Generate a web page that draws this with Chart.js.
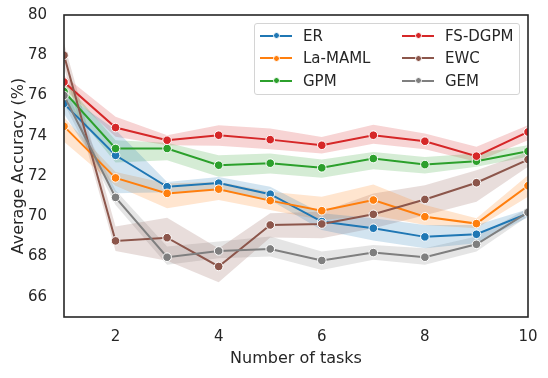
<!DOCTYPE html>
<html><head><meta charset="utf-8">
<script src="https://cdn.jsdelivr.net/npm/chart.js@4/dist/chart.umd.min.js"></script>
<style>
html,body{margin:0;padding:0;background:#fff;}
#wrap{position:relative;width:548px;height:378px;}
#legend{position:absolute;left:254px;top:23px;width:266px;height:72px;border:1px solid #d4d4d4;border-radius:3px;background:rgba(255,255,255,0.8);box-sizing:border-box;}
.lab{position:absolute;font-family:"DejaVu Sans";font-size:15px;color:#262626;line-height:20px;height:20px;white-space:nowrap;}
.ln{position:absolute;height:2px;width:32px;}
.dt{position:absolute;width:7px;height:7px;border-radius:50%;box-sizing:border-box;border:1px solid #fff;}
</style>
</head><body>
<div id="wrap"><canvas id="c" width="548" height="378"></canvas><div id="legend"></div></div>
<script>
const tasks = [1,2,3,4,5,6,7,8,9,10];
const xTicks = [2,4,6,8,10];
const yTicks = [66,68,70,72,74,76,78,80];

const ER      = [75.6, 73.03, 71.47, 71.65, 71.1, 69.74, 69.41, 68.98, 69.11, 70.15];
const ER_hi   = [76.1, 74.3, 71.7, 71.95, 71.47, 70.15, 69.9, 69.57, 69.57, 70.35];
const ER_lo   = [75.1, 71.15, 71.2, 71.3, 70.81, 69.32, 68.8, 68.42, 68.66, 69.95];

const LaMAML    = [74.47, 71.91, 71.14, 71.35, 70.78, 70.28, 70.81, 69.98, 69.64, 71.52];
const LaMAML_hi = [74.9, 72.2, 71.63, 71.72, 71.22, 70.97, 71.58, 70.56, 69.9, 72.04];
const LaMAML_lo = [73.7, 71.52, 70.4, 70.81, 70.31, 69.82, 70.06, 69.57, 69.41, 70.97];

const GPM    = [76.2, 73.37, 73.37, 72.54, 72.64, 72.41, 72.87, 72.57, 72.74, 73.23];
const GPM_hi = [76.7, 73.78, 73.65, 73.03, 73.12, 72.82, 73.2, 72.95, 73.12, 73.53];
const GPM_lo = [75.8, 72.67, 72.78, 71.96, 72.13, 71.92, 72.34, 72.13, 72.46, 72.96];

const FSDGPM    = [76.67, 74.41, 73.78, 74.03, 73.81, 73.53, 74.03, 73.73, 72.99, 74.19];
const FSDGPM_hi = [77.0, 74.94, 74.03, 74.52, 74.36, 73.94, 74.55, 74.11, 73.45, 74.52];
const FSDGPM_lo = [76.34, 73.95, 73.53, 73.5, 73.33, 73.12, 73.61, 73.33, 72.71, 73.78];

const EWC    = [78.0, 68.78, 68.94, 67.51, 69.57, 69.62, 70.1, 70.84, 71.67, 72.82];
const EWC_hi = [78.6, 69.49, 69.93, 68.4, 70.15, 70.23, 71.14, 71.55, 72.29, 73.2];
const EWC_lo = [77.4, 68.28, 67.8, 66.73, 68.95, 68.91, 69.41, 70.06, 70.73, 72.46];

const GEM    = [76.0, 70.94, 67.97, 68.28, 68.38, 67.81, 68.2, 67.97, 68.61, 70.2];
const GEM_hi = [76.4, 71.3, 68.5, 68.75, 69.0, 68.25, 68.58, 68.42, 69.0, 70.4];
const GEM_lo = [75.6, 70.56, 67.59, 67.92, 68.0, 67.34, 67.84, 67.59, 68.25, 70.0];

const series = [
  {name:'ER', color:'#1f77b4', rgb:'31,119,180', v:ER, hi:ER_hi, lo:ER_lo},
  {name:'La-MAML', color:'#ff7f0e', rgb:'255,127,14', v:LaMAML, hi:LaMAML_hi, lo:LaMAML_lo},
  {name:'GPM', color:'#2ca02c', rgb:'44,160,44', v:GPM, hi:GPM_hi, lo:GPM_lo},
  {name:'FS-DGPM', color:'#d62728', rgb:'214,39,40', v:FSDGPM, hi:FSDGPM_hi, lo:FSDGPM_lo},
  {name:'EWC', color:'#8c564b', rgb:'140,86,75', v:EWC, hi:EWC_hi, lo:EWC_lo},
  {name:'GEM', color:'#7f7f7f', rgb:'127,127,127', v:GEM, hi:GEM_hi, lo:GEM_lo}
];

const pts = arr => arr.map((y,i)=>({x:tasks[i], y:y}));
const datasets = [];
[...series].reverse().forEach(s=>{
  datasets.push({label:s.name, data:pts(s.v), borderColor:s.color, backgroundColor:s.color,
    borderWidth:2, pointRadius:4.3, pointBackgroundColor:s.color, pointBorderColor:'#ffffff',
    pointBorderWidth:1, fill:false, tension:0});
});
series.forEach(s=>{
  const lowIdx = datasets.length;
  datasets.push({label:s.name+'_lo', data:pts(s.lo), borderWidth:0, pointRadius:0, fill:false, borderColor:'rgba(0,0,0,0)'});
  datasets.push({label:s.name+'_hi', data:pts(s.hi), borderWidth:0, pointRadius:0, borderColor:'rgba(0,0,0,0)',
    fill:{target:lowIdx}, backgroundColor:'rgba('+s.rgb+',0.2)'});
});

const frame = {
  id:'frame',
  afterDraw(chart){
    const {ctx, chartArea:a} = chart;
    ctx.save();
    ctx.strokeStyle = '#262626';
    ctx.lineWidth = 1.6;
    ctx.strokeRect(a.left, a.top, a.right-a.left, a.bottom-a.top);
    ctx.restore();
  }
};

const txt = '#262626';
new Chart(document.getElementById('c'), {
  type:'line',
  data:{datasets},
  options:{
    responsive:false, animation:false,
    layout:{padding:{left:0, top:15, right:20, bottom:0}},
    plugins:{legend:{display:false}, tooltip:{enabled:false}},
    scales:{
      x:{type:'linear', min:1, max:10,
        grid:{display:false, drawTicks:false}, border:{display:false},
        afterBuildTicks(s){ s.ticks = xTicks.map(v=>({value:v})); },
        afterFit(s){ s.height = 61; s.paddingLeft = 0; s.paddingRight = 0; },
        ticks:{color:txt, font:{family:'DejaVu Sans', size:15}, padding:11, maxRotation:0},
        title:{display:true, text:'Number of tasks', color:txt, font:{family:'DejaVu Sans', size:16}, padding:{top:0,bottom:10}}
      },
      y:{type:'linear', min:65, max:80,
        grid:{display:false, drawTicks:false}, border:{display:false},
        afterBuildTicks(s){ s.ticks = yTicks.map(v=>({value:v})); },
        afterFit(s){ s.width = 64; s.paddingTop = 0; s.paddingBottom = 0; },
        ticks:{color:txt, font:{family:'DejaVu Sans', size:15}, padding:17},
        title:{display:true, text:'Average Accuracy (%)', color:txt, font:{family:'DejaVu Sans', size:16}, padding:{top:9,bottom:0}}
      }
    }
  },
  plugins:[frame]
});

const leg = document.getElementById('wrap');
const rows = [35.7, 58.3, 80.7];
const cols = [{line:260, text:303}, {line:402, text:445}];
series.forEach((s,i)=>{
  const c = cols[Math.floor(i/3)], y = rows[i%3];
  const ln = document.createElement('div'); ln.className='ln';
  ln.style.left = c.line+'px'; ln.style.top = (y-1)+'px'; ln.style.background = s.color;
  const dt = document.createElement('div'); dt.className='dt';
  dt.style.left = (c.line+16-3.5)+'px'; dt.style.top = (y-3.5)+'px'; dt.style.background = s.color;
  const lb = document.createElement('div'); lb.className='lab';
  lb.style.left = c.text+'px'; lb.style.top = (y-10)+'px'; lb.textContent = s.name;
  leg.appendChild(ln); leg.appendChild(dt); leg.appendChild(lb);
});
</script>
</body></html>
